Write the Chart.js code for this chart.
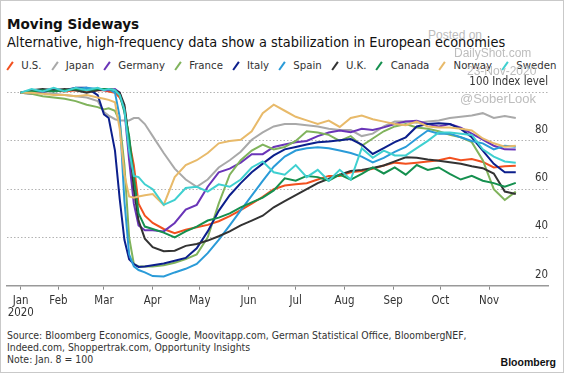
<!DOCTYPE html>
<html>
<head>
<meta charset="utf-8">
<script src="https://cdn.jsdelivr.net/npm/chart.js@4.4.0/dist/chart.umd.min.js"></script>
<style>
  html, body { margin: 0; padding: 0; background: #fff; }
  #wrap { position: relative; width: 564px; height: 373px; overflow: hidden; background: #fff;
          font-family: 'DejaVu Sans Condensed', 'DejaVu Sans', sans-serif; font-stretch: condensed; color: #222; }
  #frame { position: absolute; left: 0; top: 0; right: 0; bottom: 0; border: 1px solid #c9c9c9; pointer-events: none; }
  .title { position: absolute; left: 7px; top: 18px; font-family: 'DejaVu Sans', sans-serif; font-stretch: normal;
           font-weight: bold; font-size: 13.6px; line-height: 1; color: #111; white-space: nowrap; }
  .subtitle { position: absolute; left: 7px; top: 34.5px; font-size: 14.4px; line-height: 1; color: #111; white-space: nowrap; }
  #legend { position: absolute; left: 7px; top: 60px; display: flex; font-size: 11.3px; line-height: 11px; color: #333; white-space: nowrap; }
  .item { display: flex; align-items: center; margin-right: 10px; }
  .sw { display: inline-block; width: 2.2px; height: 10px; margin: 0 10px 0 2px; transform: rotate(35deg); }
  #chart { position: absolute; left: 0; top: 75px; }
  .wm { position: absolute; font-family: 'Liberation Sans', Arial, sans-serif; color: #bdbdbd; font-size: 12px; line-height: 1; white-space: nowrap; }
  .source { position: absolute; left: 7px; top: 329px; font-size: 10.4px; line-height: 12px; color: #333; white-space: nowrap; }
  .brand { position: absolute; right: 8px; top: 356px; font-family: 'Liberation Sans', Arial, sans-serif; font-weight: bold;
           font-size: 10.5px; line-height: 12px; color: #111; }
</style>
</head>
<body>
<div id="wrap">
  <div class="title">Moving Sideways</div>
  <div class="subtitle">Alternative, high-frequency data show a stabilization in European economies</div>
  <div id="legend"></div>
  <canvas id="chart" width="564" height="250"></canvas>
  <div class="wm" style="left:428px;top:28.5px">Posted on</div>
  <div class="wm" style="left:454px;top:47px">DailyShot.com</div>
  <div class="wm" style="left:467px;top:65px">23-Nov-2020</div>
  <div class="wm" style="left:460px;top:91.5px;font-size:13px">@SoberLook</div>
  <div class="source">Source: Bloomberg Economics, Google, Moovitapp.com, German Statistical Office, BloombergNEF,<br>Indeed.com, Shoppertrak.com, Opportunity Insights<br>Note: Jan. 8 = 100</div>
  <div class="brand">Bloomberg</div>
  <div id="frame"></div>
</div>
<script>
// day of year 2020 (Jan 1 = 0), first point is Jan 8
const days = [7, 14, 21, 28, 35, 42, 49, 56, 60, 63, 67, 70, 73, 76, 79, 82, 86, 91,
  98, 105, 112, 119, 126, 133, 140, 147, 154, 161, 168, 175, 182, 189, 196, 203, 210,
  217, 224, 231, 238, 245, 252, 259, 266, 273, 280, 287, 294, 301, 308, 315, 322];

const usIndex = [100, 100.5, 100.5, 101, 100.5, 101, 100.5, 101, 101, 100.5, 100, 98, 94, 80, 70, 54, 49, 46,
  43.5, 41.8, 43.2, 44.2, 45.2, 46.7, 48.8, 51.3, 54, 56.8, 60, 61.5, 62, 62.5, 64, 65.5, 65.5,
  67, 67.5, 68.5, 69.8, 71, 70.5, 71, 71.5, 72, 73, 72, 72.5, 71.3, 69, 69.5, 69.7];
const japanIndex = [100, 100.5, 100, 99.5, 99, 98.5, 98, 96.5, 92, 90.5, 89, 88.5, 88.5, 88.5, 89.5, 89.5, 87, 82,
  75, 68.5, 64, 61, 64, 69, 72, 75.5, 80.5, 83.5, 86, 87, 87, 86.5, 86, 85, 84.5,
  84.5, 82, 83, 86, 88, 88, 87.5, 88, 88.5, 89.5, 90, 90.5, 91.5, 89.5, 90.3, 89.5];
const germanyIndex = [100, 99.5, 100.5, 101, 101, 101.5, 101, 101.5, 101, 101, 101.5, 100, 93, 72, 54, 45, 43, 43,
  42.5, 46, 51.5, 53.5, 61, 67, 68.5, 71, 74.5, 74.5, 77.5, 78.5, 79.4, 80, 82, 83.5, 84.3,
  83.6, 85, 84.5, 85.6, 87, 88, 88.4, 87, 86, 87, 85.5, 83, 80.5, 78, 76.5, 76.4];
const franceIndex = [100, 99.5, 98.5, 98, 97.5, 96.5, 95, 94, 93, 93.5, 92.5, 88, 70, 40, 29, 28, 28, 28,
  28.5, 29.5, 31, 33, 40, 54, 66, 72, 76, 78.5, 76.5, 77.5, 80, 84, 83.5, 82.5, 80,
  82, 78, 81, 84, 86, 87, 85.6, 85, 84, 82.5, 81.5, 79.5, 72, 60, 55.5, 59];
const italyIndex = [100, 100.5, 100.5, 101, 101, 102, 102, 99, 91, 89.5, 76, 56, 39, 31, 29, 27.8, 28, 28.5,
  29.2, 30.3, 31.5, 35.5, 42.5, 51, 57.5, 62.5, 67, 70.6, 74, 76.5, 77.5, 78.5, 79.4, 79.8, 80.3,
  80.8, 78.5, 74.6, 77, 79.5, 81.5, 86, 87, 87.3, 87, 85, 81.5, 76, 70.5, 67, 67];
const spainIndex = [100, 100.5, 101, 101.5, 101, 101.5, 102, 101.5, 101.5, 101.5, 100, 90, 55, 33, 28, 26.5, 25.5, 24,
  23.8, 25.5, 27, 29, 33.5, 39, 45, 51.2, 57.3, 63.4, 69.3, 73.5, 76, 77, 77.4, 77, 76,
  75, 73.5, 71.1, 73, 75.5, 77.5, 81, 84.3, 83, 83, 81.5, 80, 79, 76.5, 78, 77.6];
const ukIndex = [100, 101, 101.5, 101, 101.5, 101, 100, 101, 101.5, 101.5, 101, 100, 95, 80, 60, 47, 39.5, 36,
  34.3, 34.5, 36.5, 37.3, 38.7, 40.5, 42.5, 45, 47, 49, 52.5, 55, 57.5, 60, 62.5, 64.3, 66,
  67.5, 68, 68.8, 69.8, 71.5, 73.2, 73, 72.3, 71.8, 71.2, 70.5, 69.5, 68.7, 66.5, 59, 58];
const canadaIndex = [100, 100.5, 101, 100.5, 101, 101.5, 101, 101.5, 101.5, 101.5, 101, 99, 92, 82, 65, 50, 44.5, 43.5,
  42, 40, 42.5, 44.5, 47, 48.2, 50, 52.5, 54.5, 56.5, 59.5, 64.5, 63.5, 65.5, 65, 63.5, 66,
  64, 66.3, 69, 66.5, 69, 66, 70, 68, 69, 66.3, 64, 65.5, 63.5, 62.5, 61, 62.6];
const norwayIndex = [100, 100, 99.5, 99, 99, 98.5, 99, 98, 97.5, 97, 96, 85, 66, 57, 56.5, 57, 57.5, 58,
  53.5, 65, 70, 72, 75, 79, 80, 80.5, 84, 91.5, 95, 92.5, 90, 88.5, 87, 88.4, 85.8,
  89.5, 90.5, 89, 88, 87, 86.5, 88, 86, 85.6, 85.6, 85, 84.3, 81, 79, 77.6, 78];
const swedenIndex = [100, 101.5, 100.5, 102, 100.5, 102, 101, 102, 101, 101.5, 101, 99, 93, 76, 65.5, 65, 62, 60,
  53.5, 55.5, 60.5, 61, 59, 62, 61, 64, 69, 71.5, 67, 66, 70, 65, 68, 63.5, 68,
  64, 77, 73, 76, 74, 74, 77, 80, 83.5, 83.5, 83, 82.5, 76.5, 73.5, 71.5, 71];

const seriesNames = ['U.S.', 'Japan', 'Germany', 'France', 'Italy', 'Spain', 'U.K.', 'Canada', 'Norway', 'Sweden'];
const seriesValues = [usIndex, japanIndex, germanyIndex, franceIndex, italyIndex, spainIndex, ukIndex, canadaIndex, norwayIndex, swedenIndex];

// x axis: month starts (first tick on Jan 8)
const monthTicks = [7, 31, 60, 91, 121, 152, 182, 213, 244, 274, 305];
const monthLabels = [['Jan', '2020'], 'Feb', 'Mar', 'Apr', 'May', 'Jun', 'Jul', 'Aug', 'Sep', 'Oct', 'Nov'];
const yTicks = [20, 40, 60, 80, 100];

const lineColors = ['#f2501f', '#a9a9a9', '#6a35b8', '#80b35c', '#0c1f8c', '#2a9bd8', '#333333', '#15904f', '#e8ba6a', '#3fd0d0'];

// legend (html)
const legendEl = document.getElementById('legend');
seriesNames.forEach((name, i) => {
    const item = document.createElement('div');
    item.className = 'item';
    item.innerHTML = '<span class="sw" style="background:' + lineColors[i] + '"></span><span>' + name + '</span>';
    legendEl.appendChild(item);
});

const tickFont = { family: "'DejaVu Sans Condensed', 'DejaVu Sans', sans-serif", size: 11.4, lineHeight: 1.05 };

const ctx = document.getElementById('chart').getContext('2d');
const chart = new Chart(ctx, {
    type: 'line',
    data: {
        datasets: seriesNames.map((name, i) => ({
            label: name,
            data: days.map((d, j) => ({ x: d, y: seriesValues[i][j] })),
            borderColor: lineColors[i],
            borderWidth: 2,
            pointRadius: 0,
            tension: 0,
            fill: false,
            order: -i  // later series on top
        }))
    },
    options: {
        responsive: false,
        animation: false,
        layout: { padding: { left: 7, top: 8, right: 0, bottom: 0 } },
        plugins: {
            legend: { display: false },
            tooltip: { enabled: false }
        },
        scales: {
            x: {
                type: 'linear',
                min: -1.7,
                max: 342.5,
                afterBuildTicks: (scale) => { scale.ticks = monthTicks.map(v => ({ value: v })); },
                afterFit: (scale) => { scale.height = 39.3; },
                ticks: {
                    autoSkip: false,
                    maxRotation: 0,
                    padding: 5,
                    color: '#333',
                    font: tickFont,
                    callback: (v, idx) => monthLabels[idx]
                },
                grid: { drawOnChartArea: false, drawTicks: true, tickLength: 4, color: '#888', lineWidth: 1 },
                border: { display: true, color: '#999', width: 1.5 }
            },
            y: {
                position: 'right',
                min: 20,
                max: 104,
                afterBuildTicks: (scale) => { scale.ticks = yTicks.map(v => ({ value: v })); },
                afterFit: (scale) => { scale.width = 16; },
                ticks: {
                    mirror: true,
                    padding: 0,
                    labelOffset: -11,
                    color: '#333',
                    font: tickFont,
                    callback: (v) => v === 100 ? '100 Index level' : v
                },
                grid: { color: '#b3b3b3', lineWidth: 1, drawTicks: false },
                border: { display: false, dash: [1.5, 2] }
            }
        }
    }
});
</script>
</body>
</html>
